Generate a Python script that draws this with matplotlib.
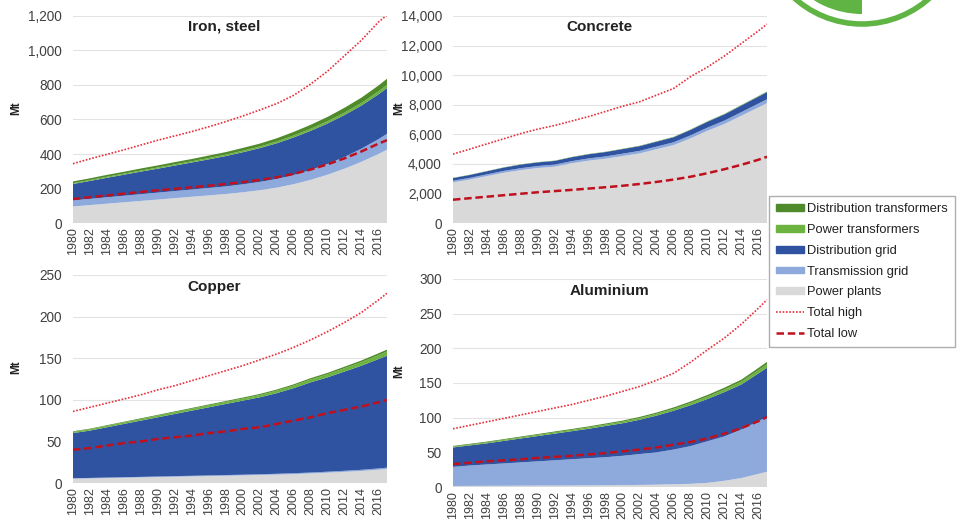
import numpy as np
import matplotlib
matplotlib.use("Agg")
from matplotlib import pyplot as plt
from matplotlib.patches import Patch, Arc, Wedge
from matplotlib.lines import Line2D
from matplotlib.ticker import FuncFormatter

plt.rcParams["font.family"] = ["Liberation Sans", "DejaVu Sans"]

years = [1980, 1982, 1984, 1986, 1988, 1990, 1992, 1994, 1996, 1998,
         2000, 2002, 2004, 2006, 2008, 2010, 2012, 2014, 2016, 2017]
tick_years = list(range(1980, 2017, 2))

series_names = ["Power plants", "Transmission grid", "Distribution grid",
                "Power transformers", "Distribution transformers"]
series_colors = ["#d9d9d9", "#8eaadc", "#2f53a1", "#6db33f", "#4f8a2b"]

# Iron, steel (Mt)
steel_plants = [96, 104, 112, 120, 128, 136, 144, 152, 160, 168, 178, 190, 205, 225, 250, 280, 315, 355, 400, 425]
steel_trans = [35, 36, 37, 38, 39, 40, 41, 42, 43, 44, 46, 48, 50, 53, 57, 62, 68, 76, 86, 92]
steel_dist = [95, 104, 113, 122, 131, 139, 148, 157, 166, 176, 186, 196, 207, 218, 227, 235, 243, 250, 260, 265]
steel_ptrans = [5, 5, 6, 6, 6, 7, 7, 7, 8, 8, 9, 9, 10, 11, 12, 13, 14, 15, 17, 18]
steel_dtrans = [10, 10, 11, 11, 12, 12, 13, 13, 14, 15, 16, 17, 19, 21, 23, 25, 28, 31, 34, 36]
steel_high = [344, 372, 398, 424, 452, 480, 505, 530, 558, 588, 620, 655, 692, 740, 805, 880, 970, 1060, 1165, 1205]
steel_low = [139, 150, 160, 170, 180, 190, 198, 207, 216, 226, 237, 250, 265, 285, 310, 340, 375, 415, 460, 480]

# Concrete (Mt)
concrete_plants = [2750, 2940, 3170, 3400, 3580, 3720, 3810, 4040, 4220, 4350, 4530, 4710, 4990, 5270, 5730, 6240, 6700, 7260, 7820, 8100]
concrete_trans = [110, 115, 120, 125, 130, 135, 140, 145, 150, 155, 160, 170, 180, 190, 200, 215, 230, 245, 260, 270]
concrete_dist = [180, 195, 210, 225, 240, 245, 250, 265, 280, 295, 310, 320, 330, 340, 370, 395, 420, 445, 470, 480]
concrete_ptrans = [10, 10, 11, 11, 12, 12, 13, 13, 14, 14, 15, 16, 17, 18, 19, 20, 22, 24, 26, 27]
concrete_dtrans = [6, 6, 6, 7, 7, 7, 8, 8, 8, 9, 9, 10, 10, 11, 12, 13, 14, 15, 16, 17]
concrete_high = [4660, 5000, 5350, 5700, 6050, 6350, 6600, 6900, 7200, 7550, 7900, 8200, 8650, 9100, 9900, 10550, 11300, 12150, 13000, 13450]
concrete_low = [1575, 1680, 1780, 1880, 1980, 2080, 2160, 2240, 2330, 2420, 2520, 2640, 2780, 2940, 3130, 3370, 3640, 3940, 4280, 4480]

# Copper (Mt)
copper_plants = [5.2, 5.5, 5.9, 6.3, 6.7, 7.1, 7.5, 7.9, 8.3, 8.7, 9.1, 9.6, 10.1, 10.7, 11.5, 12.4, 13.4, 14.5, 16.0, 17.0]
copper_trans = [0.6, 0.6, 0.7, 0.7, 0.7, 0.8, 0.8, 0.8, 0.9, 0.9, 0.9, 1.0, 1.0, 1.1, 1.1, 1.2, 1.3, 1.4, 1.5, 1.5]
copper_dist = [54.2, 56.9, 60.4, 64.0, 67.6, 71.1, 74.7, 78.3, 81.8, 85.4, 89.0, 92.4, 96.9, 102.2, 108.4, 113.4, 119.3, 125.1, 131.5, 134.5]
copper_ptrans = [1.5, 1.6, 1.7, 1.8, 1.9, 2.0, 2.1, 2.2, 2.3, 2.4, 2.5, 2.7, 2.9, 3.1, 3.4, 3.7, 4.0, 4.3, 4.7, 5.0]
copper_dtrans = [0.7, 0.7, 0.8, 0.8, 0.9, 0.9, 1.0, 1.0, 1.1, 1.1, 1.2, 1.3, 1.4, 1.5, 1.6, 1.7, 1.8, 2.0, 2.2, 2.3]
copper_high = [86, 91, 96, 101, 106, 112, 117, 123, 129, 135, 141, 148, 155, 163, 172, 182, 193, 205, 220, 228]
copper_low = [40, 42, 45, 48, 50, 53, 55, 57, 60, 62, 65, 67, 71, 75, 79, 84, 88, 92, 97, 100]

# Aluminium (Mt)
alu_plants = [1.5, 1.6, 1.7, 1.8, 1.9, 2.0, 2.1, 2.2, 2.3, 2.5, 2.7, 3.0, 3.4, 3.9, 4.6, 6, 9, 13, 19, 22]
alu_trans = [27.5, 29.4, 30.8, 32.2, 33.6, 35.0, 36.4, 37.8, 39.2, 40.5, 42.3, 44.5, 46.6, 50.1, 54.4, 60, 64, 70, 76, 79]
alu_dist = [28, 29, 30.5, 32.5, 34.5, 36.5, 38.5, 40.5, 42.5, 45, 47, 49.5, 53, 56, 59, 61, 64, 65, 69, 71]
alu_ptrans = [1.2, 1.3, 1.4, 1.5, 1.6, 1.7, 1.8, 1.9, 2.0, 2.1, 2.2, 2.4, 2.6, 2.8, 3.1, 3.4, 3.7, 4.1, 4.6, 5.0]
alu_dtrans = [1.0, 1.0, 1.1, 1.1, 1.2, 1.2, 1.3, 1.3, 1.4, 1.5, 1.6, 1.7, 1.8, 2.0, 2.2, 2.4, 2.6, 2.9, 3.2, 3.4]
alu_high = [84, 89, 94, 99, 104, 109, 114, 119, 125, 131, 138, 145, 154, 164, 180, 198, 215, 235, 258, 270]
alu_low = [33, 35, 37, 38.5, 40, 42, 43.5, 45, 47, 49, 51.5, 54, 57, 61, 65, 70, 77, 85, 95, 101]

# title, stacked layers, high, low, y max, y step, axes rect, ylabel x, title x, title y
panels = [
    ("Iron, steel", [steel_plants, steel_trans, steel_dist, steel_ptrans, steel_dtrans],
     steel_high, steel_low, 1200, 200, [0.0756, 0.5744, 0.3254, 0.3951], -0.162, 0.481, 0.947),
    ("Concrete", [concrete_plants, concrete_trans, concrete_dist, concrete_ptrans, concrete_dtrans],
     concrete_high, concrete_low, 14000, 2000, [0.4694, 0.5744, 0.3254, 0.3951], -0.153, 0.468, 0.947),
    ("Copper", [copper_plants, copper_trans, copper_dist, copper_ptrans, copper_dtrans],
     copper_high, copper_low, 250, 50, [0.0756, 0.0782, 0.3254, 0.3970], -0.162, 0.449, 0.942),
    ("Aluminium", [alu_plants, alu_trans, alu_dist, alu_ptrans, alu_dtrans],
     alu_high, alu_low, 300, 50, [0.4694, 0.0706, 0.3254, 0.3970], -0.153, 0.5, 0.942),
]

fig = plt.figure(figsize=(9.65, 5.24), dpi=100)
text_color = "#404040"

for title, stack, high, low, ymax, ystep, pos, ylab_x, tx, ty in panels:
    ax = fig.add_axes(pos)
    ax.stackplot(years, *stack, colors=series_colors, linewidth=0)
    ax.plot(years, high, color="#e8303c", linestyle=(0, (1, 1)), linewidth=1.2)
    ax.plot(years, low, color="#c0101e", linestyle=(0, (3, 1.5)), linewidth=1.8)
    ax.set_xlim(1980, 2017)
    ax.set_ylim(0, ymax)
    ax.set_yticks(np.arange(0, ymax + 1, ystep))
    ax.yaxis.set_major_formatter(FuncFormatter(lambda v, p: f"{v:,.0f}"))
    ax.set_xticks(tick_years)
    ax.set_xticklabels([str(y) for y in tick_years], rotation=90)
    ax.tick_params(axis="x", length=0, labelsize=9, colors=text_color, pad=3)
    ax.tick_params(axis="y", length=0, labelsize=9.8, colors=text_color, pad=8)
    ax.grid(axis="y", color="#e3e3e3", linewidth=0.8)
    ax.set_axisbelow(True)
    for sp in ax.spines.values():
        sp.set_visible(False)
    ax.set_ylabel("Mt", fontsize=8.5, fontweight="bold", color="#222222")
    ax.yaxis.set_label_coords(ylab_x, 0.556)
    ax.text(tx, ty, title, transform=ax.transAxes, ha="center", va="center",
            fontsize=11, fontweight="bold", color="#222222")

handles = [Patch(color=c, label=n) for c, n in zip(series_colors, series_names)][::-1]
handles.append(Line2D([], [], color="#e8303c", linestyle=(0, (1, 1)), linewidth=1.2, label="Total high"))
handles.append(Line2D([], [], color="#c0101e", linestyle=(0, (3, 1.5)), linewidth=1.8, label="Total low"))
fig.legend(handles=handles, loc="upper left", bbox_to_anchor=(0.79, 0.638),
           fontsize=9.3, frameon=True, fancybox=False, edgecolor="#9a9a9a",
           handlelength=2.2, handleheight=0.45, handletextpad=0.2,
           labelspacing=0.68, borderpad=0.55, labelcolor="#222222")

# green logo in the top right corner
logo = fig.add_axes([0, 0, 1, 1], zorder=-1)
logo.set_xlim(0, 965)
logo.set_ylim(524, 0)
logo.axis("off")
logo.add_patch(Arc((862, -77), 2 * 101, 2 * 101, theta1=0, theta2=180,
                   color="#5fb444", linewidth=4))
logo.add_patch(Wedge((862, -77), 91, 90, 140, color="#5fb444", linewidth=0))

fig.savefig("out.png", dpi=100)
